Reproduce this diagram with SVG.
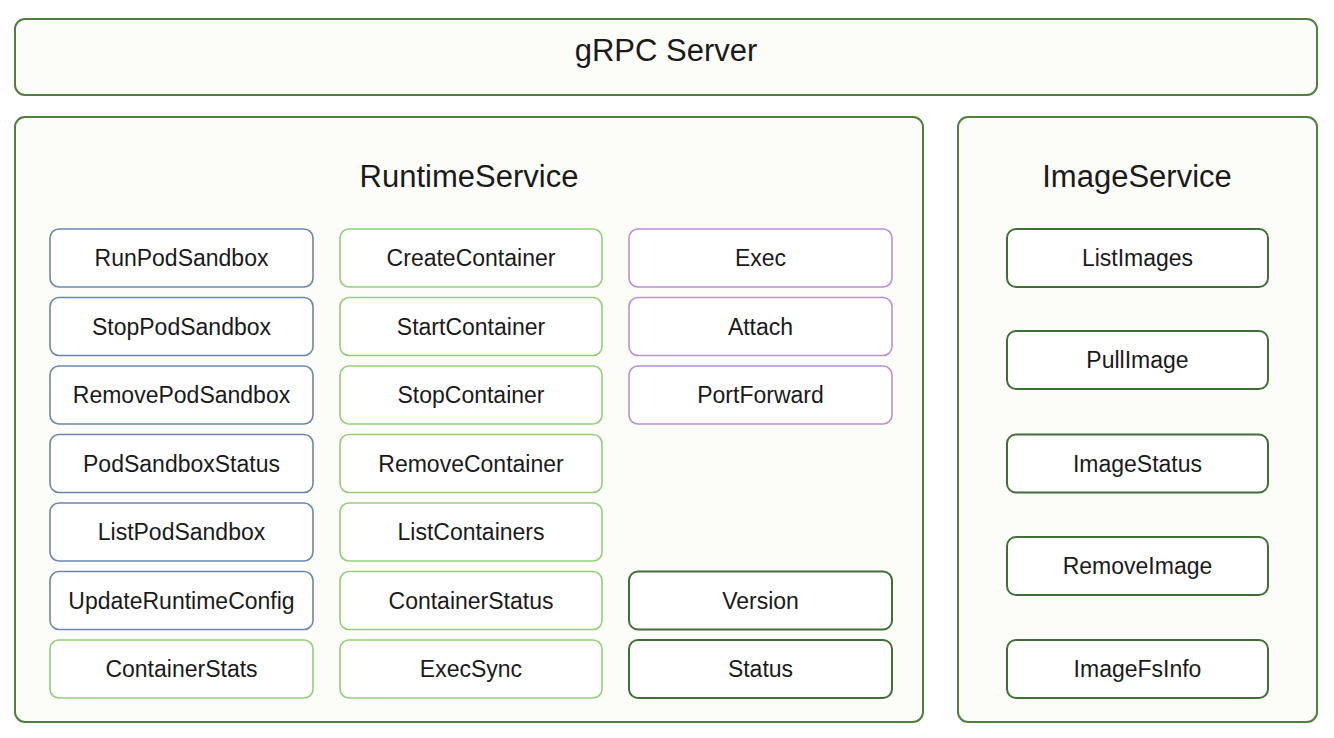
<svg xmlns="http://www.w3.org/2000/svg" width="1334" height="738" viewBox="0 0 1334 738">
<style>
.outer{fill:#fcfdf8;stroke:#4f8040;stroke-width:2}
.n{fill:#ffffff;stroke-width:1.6}
.blue{stroke:#6c86b0}
.lg{stroke:#92cf78}
.pu{stroke:#b98fd6}
.dg{stroke:#3f6e36;stroke-width:2}
text{font-family:"Liberation Sans",Arial,sans-serif;fill:#1a1a1a;text-anchor:middle;dominant-baseline:central}
.t{font-size:23px}
.h{font-size:31px}
</style>
<rect width="1334" height="738" fill="#ffffff"/>
<g id="grpc-server"><rect class="outer" x="15" y="19" width="1302" height="76" rx="10"/><text class="h" x="666" y="50">gRPC Server</text></g>
<g id="runtime-service"><rect class="outer" x="15" y="117" width="908" height="605" rx="10"/><text class="h" x="469" y="176">RuntimeService</text></g>
<g id="image-service"><rect class="outer" x="958" y="117" width="359" height="605" rx="10"/><text class="h" x="1137" y="176">ImageService</text></g>
<g id="RunPodSandbox"><rect class="n blue" x="50" y="229" width="263" height="58" rx="9"/><text class="t" x="181.5" y="258">RunPodSandbox</text></g>
<g id="StopPodSandbox"><rect class="n blue" x="50" y="297.5" width="263" height="58" rx="9"/><text class="t" x="181.5" y="326.5">StopPodSandbox</text></g>
<g id="RemovePodSandbox"><rect class="n blue" x="50" y="366" width="263" height="58" rx="9"/><text class="t" x="181.5" y="395">RemovePodSandbox</text></g>
<g id="PodSandboxStatus"><rect class="n blue" x="50" y="434.5" width="263" height="58" rx="9"/><text class="t" x="181.5" y="463.5">PodSandboxStatus</text></g>
<g id="ListPodSandbox"><rect class="n blue" x="50" y="503" width="263" height="58" rx="9"/><text class="t" x="181.5" y="532">ListPodSandbox</text></g>
<g id="UpdateRuntimeConfig"><rect class="n blue" x="50" y="571.5" width="263" height="58" rx="9"/><text class="t" x="181.5" y="600.5">UpdateRuntimeConfig</text></g>
<g id="ContainerStats"><rect class="n lg" x="50" y="640" width="263" height="58" rx="9"/><text class="t" x="181.5" y="669">ContainerStats</text></g>
<g id="CreateContainer"><rect class="n lg" x="340" y="229" width="262" height="58" rx="9"/><text class="t" x="471" y="258">CreateContainer</text></g>
<g id="StartContainer"><rect class="n lg" x="340" y="297.5" width="262" height="58" rx="9"/><text class="t" x="471" y="326.5">StartContainer</text></g>
<g id="StopContainer"><rect class="n lg" x="340" y="366" width="262" height="58" rx="9"/><text class="t" x="471" y="395">StopContainer</text></g>
<g id="RemoveContainer"><rect class="n lg" x="340" y="434.5" width="262" height="58" rx="9"/><text class="t" x="471" y="463.5">RemoveContainer</text></g>
<g id="ListContainers"><rect class="n lg" x="340" y="503" width="262" height="58" rx="9"/><text class="t" x="471" y="532">ListContainers</text></g>
<g id="ContainerStatus"><rect class="n lg" x="340" y="571.5" width="262" height="58" rx="9"/><text class="t" x="471" y="600.5">ContainerStatus</text></g>
<g id="ExecSync"><rect class="n lg" x="340" y="640" width="262" height="58" rx="9"/><text class="t" x="471" y="669">ExecSync</text></g>
<g id="Exec"><rect class="n pu" x="629" y="229" width="263" height="58" rx="9"/><text class="t" x="760.5" y="258">Exec</text></g>
<g id="Attach"><rect class="n pu" x="629" y="297.5" width="263" height="58" rx="9"/><text class="t" x="760.5" y="326.5">Attach</text></g>
<g id="PortForward"><rect class="n pu" x="629" y="366" width="263" height="58" rx="9"/><text class="t" x="760.5" y="395">PortForward</text></g>
<g id="Version"><rect class="n dg" x="629" y="571.5" width="263" height="58" rx="9"/><text class="t" x="760.5" y="600.5">Version</text></g>
<g id="Status"><rect class="n dg" x="629" y="640" width="263" height="58" rx="9"/><text class="t" x="760.5" y="669">Status</text></g>
<g id="ListImages"><rect class="n dg" x="1007" y="229" width="261" height="58" rx="9"/><text class="t" x="1137.5" y="258">ListImages</text></g>
<g id="PullImage"><rect class="n dg" x="1007" y="331" width="261" height="58" rx="9"/><text class="t" x="1137.5" y="360">PullImage</text></g>
<g id="ImageStatus"><rect class="n dg" x="1007" y="434.5" width="261" height="58" rx="9"/><text class="t" x="1137.5" y="463.5">ImageStatus</text></g>
<g id="RemoveImage"><rect class="n dg" x="1007" y="537" width="261" height="58" rx="9"/><text class="t" x="1137.5" y="566">RemoveImage</text></g>
<g id="ImageFsInfo"><rect class="n dg" x="1007" y="640" width="261" height="58" rx="9"/><text class="t" x="1137.5" y="669">ImageFsInfo</text></g>
<g id="connectors"></g>
</svg>
